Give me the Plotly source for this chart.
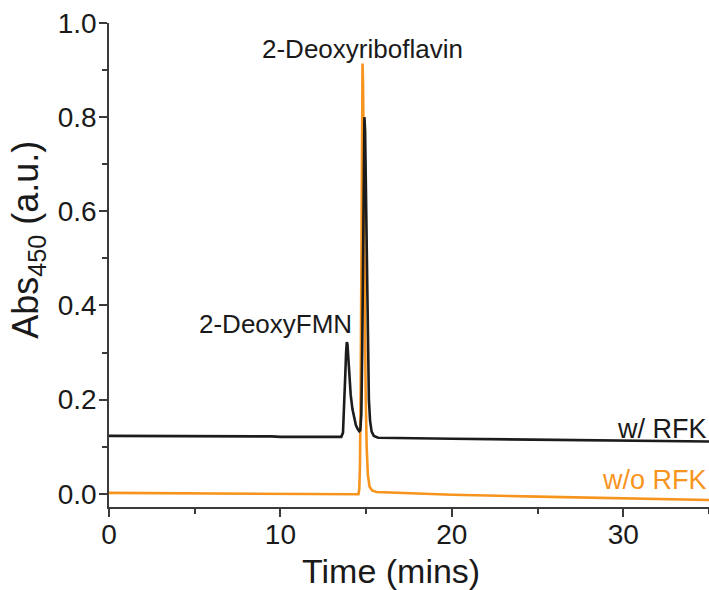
import plotly.graph_objects as go

# ---- data ----
time_w_rfk = [0, 5, 9.5, 10, 13.55, 13.65, 13.72, 13.78, 13.83, 13.87, 13.91, 13.96, 14.02,
              14.1, 14.2, 14.3, 14.4, 14.5, 14.6, 14.66, 14.72, 14.77, 14.82, 14.86, 14.9,
              14.94, 14.99, 15.04, 15.1, 15.16, 15.23, 15.32, 15.45, 15.7, 20, 25, 30, 35]
abs_w_rfk = [0.123, 0.123, 0.122, 0.121, 0.121, 0.13, 0.18, 0.25, 0.30, 0.322, 0.318, 0.29, 0.25,
             0.21, 0.18, 0.16, 0.146, 0.138, 0.133, 0.135, 0.17, 0.30, 0.52, 0.72, 0.80,
             0.77, 0.64, 0.46, 0.30, 0.20, 0.155, 0.132, 0.123, 0.119, 0.117, 0.115, 0.113, 0.111]

time_wo_rfk = [0, 10, 14.55, 14.6, 14.64, 14.68, 14.72, 14.76, 14.79, 14.82, 14.86, 14.91,
               14.97, 15.03, 15.1, 15.2, 15.35, 15.6, 20, 25, 30, 35]
abs_wo_rfk = [0.002, 0.001, -0.001, 0.01, 0.06, 0.22, 0.50, 0.80, 0.914, 0.87, 0.68, 0.42,
              0.22, 0.10, 0.04, 0.015, 0.007, 0.004, -0.002, -0.006, -0.010, -0.013]

series_names = ["w/ RFK", "w/o RFK"]
peak_labels = ["2-Deoxyriboflavin", "2-DeoxyFMN"]
x_title = "Time (mins)"
y_title = "Abs<sub>450</sub> (a.u.)"

BLACK = "#1c1c1c"
ORANGE = "#f7941d"
AXIS = "#3a3a3a"
TXT = "#1a1a1a"
FONT = "Liberation Sans, Arial, sans-serif"

fig = go.Figure()
fig.add_trace(go.Scatter(x=time_wo_rfk, y=abs_wo_rfk, mode="lines", name=series_names[1],
                         line=dict(color=ORANGE, width=2.6)))
fig.add_trace(go.Scatter(x=time_w_rfk, y=abs_w_rfk, mode="lines", name=series_names[0],
                         line=dict(color=BLACK, width=2.6)))

ann_font = dict(family=FONT, size=26, color=TXT)
fig.add_annotation(x=14.8, y=0.945, text=peak_labels[0], showarrow=False,
                   xanchor="center", yanchor="middle", font=ann_font)
fig.add_annotation(x=14.3, y=0.361, text=peak_labels[1], showarrow=False,
                   xanchor="right", yanchor="middle", font=ann_font)
fig.add_annotation(x=35, y=0.138, text=series_names[0], showarrow=False,
                   xanchor="right", yanchor="middle", font=dict(family=FONT, size=27, color=TXT))
fig.add_annotation(x=35, y=0.030, text=series_names[1], showarrow=False,
                   xanchor="right", yanchor="middle", font=dict(family=FONT, size=27, color=ORANGE))

# axis titles as annotations for exact placement
fig.add_annotation(x=16.46, y=0, yref="paper", yshift=-64, text=x_title, showarrow=False,
                   xanchor="center", yanchor="middle", font=dict(family=FONT, size=34, color=TXT))
fig.add_annotation(x=0, xref="paper", xshift=-81, y=0.552, yref="paper", text=y_title,
                   textangle=-90, showarrow=False, xanchor="center", yanchor="middle",
                   font=dict(family=FONT, size=36, color=TXT))

fig.update_layout(
    width=709, height=590,
    margin=dict(l=109, r=0, t=23, b=83, autoexpand=False),
    paper_bgcolor="white", plot_bgcolor="white",
    showlegend=False,
    font=dict(family=FONT, color=TXT),
    xaxis=dict(
        range=[0, 35], showgrid=False, zeroline=False,
        showline=True, linecolor=AXIS, linewidth=1.5,
        ticks="outside", ticklen=8, tickwidth=1.5, tickcolor=AXIS,
        tick0=0, dtick=10, ticklabelstandoff=-6,
        minor=dict(ticks="outside", ticklen=5, tickwidth=1.5, tickcolor=AXIS, dtick=5, showgrid=False),
        tickfont=dict(family=FONT, size=28, color=TXT),
    ),
    yaxis=dict(
        range=[-0.028, 1.0], showgrid=False, zeroline=False,
        showline=True, linecolor=AXIS, linewidth=1.5,
        ticks="outside", ticklen=8, tickwidth=1.5, tickcolor=AXIS,
        tick0=0, dtick=0.2, tickformat=".1f", ticklabelstandoff=-3,
        minor=dict(ticks="outside", ticklen=5, tickwidth=1.5, tickcolor=AXIS, dtick=0.1, showgrid=False),
        tickfont=dict(family=FONT, size=28, color=TXT),
    ),
)

fig.write_html("out.html", config={"displayModeBar": False},
               post_script="document.body.style.margin='0';document.body.style.overflow='hidden';")
